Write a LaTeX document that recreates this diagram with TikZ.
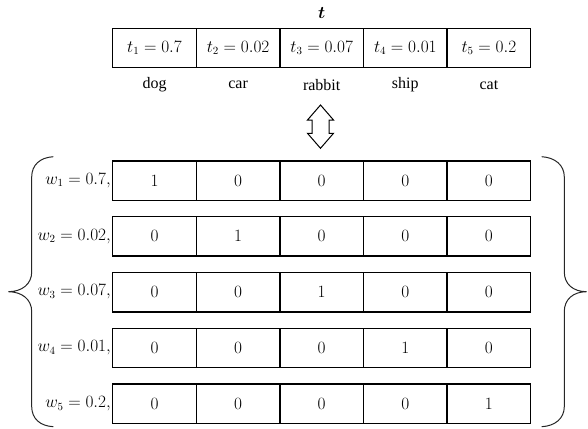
\documentclass[tikz,border=0pt]{standalone}
\usepackage{fontspec}
\setmainfont{Liberation Serif}
\usepackage{bm}
\begin{document}
\begin{tikzpicture}[x=1pt,y=-1pt,
  cell/.style={draw, line width=1.4pt, minimum width=83.6pt, minimum height=39.4pt, inner sep=0pt, font=\fontsize{16}{19}\selectfont},
  lab/.style={inner sep=0pt, font=\fontsize{16}{19}\selectfont},
  wlab/.style={anchor=east, inner sep=0pt, font=\fontsize{16}{19}\selectfont},
  brace/.style={draw=black!85, line width=1pt},
  updown/.style={draw, line width=1pt, fill=white}]
\useasboundingbox (0,0) rectangle (588,428);
% title
\node[lab] (title) at (321.7,13.5) {$\bm{t}$};
% top row
\foreach \i/\x/\v/\w in {1/154.5/0.7/dog, 2/238.1/0.02/car, 3/321.7/0.07/rabbit, 4/405.3/0.01/ship, 5/488.9/0.2/cat}{
  \node[cell] (t\i) at (\x,48) {$t_{\i} = \v$};
  \node[lab] (l\i) at (\x,85) {\w};
}
% double arrow
\draw[updown] (320.5,105) -- (333.5,120) -- (329,120) -- (329,133.3) -- (333.5,133.3) -- (320.5,148.3) -- (307.5,133.3) -- (312,133.3) -- (312,120) -- (307.5,120) -- cycle;
% matrix
\foreach \r/\y/\v in {1/180.5/0.7, 2/236.3/0.02, 3/292.1/0.07, 4/347.9/0.01, 5/403.7/0.2}{
  \node[wlab] (w\r) at (111,\y) {$w_{\r} = \v,$};
  \foreach \c/\x in {1/154.5, 2/238.1, 3/321.7, 4/405.3, 5/488.9}{
    \pgfmathtruncatemacro{\val}{\r==\c ? 1 : 0}
    \node[cell] (m\r\c) at (\x,\y) {$\val$};
  }
}
% braces
\draw[brace] (53.3,156.7) .. controls (40,157.5) and (31.7,165) .. (31.7,177) -- (31.7,272) .. controls (31.7,284) and (22,291.7) .. (8.3,291.7) .. controls (22,291.7) and (31.7,299.5) .. (31.7,311.5) -- (31.7,406.5) .. controls (31.7,418.5) and (40,426) .. (53.3,426.7);
\draw[brace] (541.7,156.7) .. controls (555,157.5) and (564.3,165) .. (564.3,177) -- (564.3,272) .. controls (564.3,284) and (573,291.7) .. (586.7,291.7) .. controls (573,291.7) and (564.3,299.5) .. (564.3,311.5) -- (564.3,406.5) .. controls (564.3,418.5) and (555,426) .. (541.7,426.7);
\end{tikzpicture}
\end{document}
